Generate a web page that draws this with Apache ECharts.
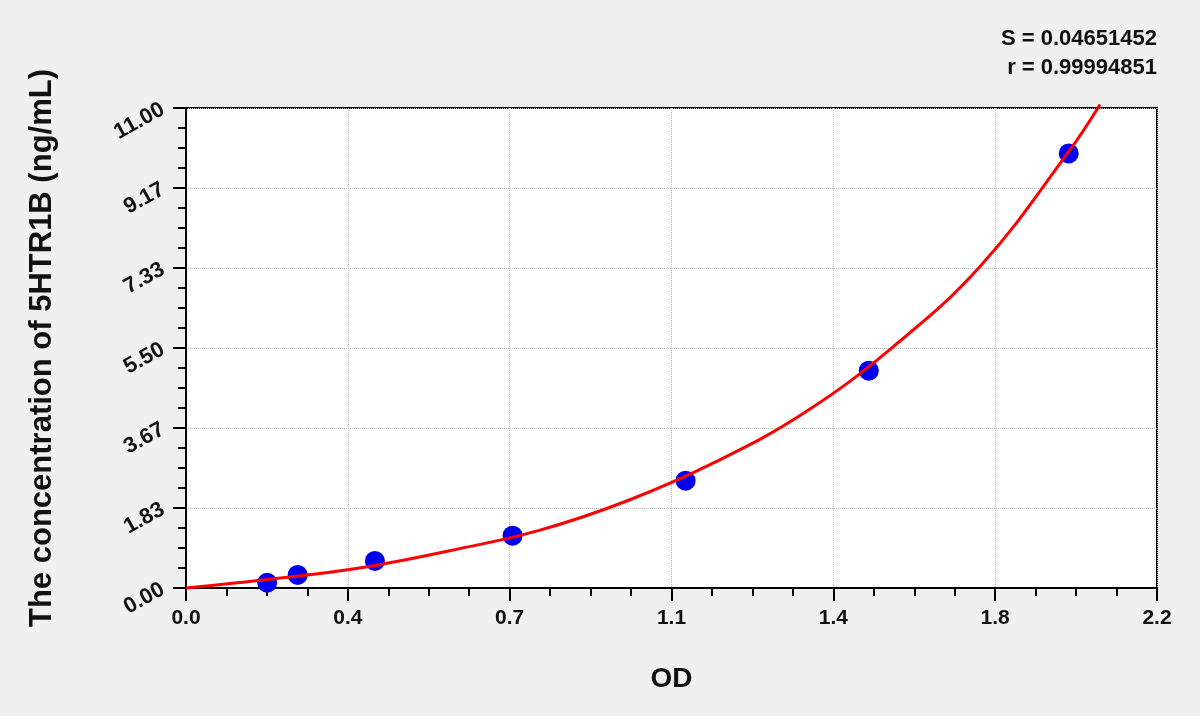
<!DOCTYPE html>
<html>
<head>
<meta charset="utf-8">
<script src="https://cdn.jsdelivr.net/npm/echarts@6/dist/echarts.min.js"></script>
<style>
  html, body { margin: 0; padding: 0; background: #f0f0f0; }
  #chart { width: 1200px; height: 716px; }
</style>
</head>
<body>
<div id="chart"></div>
<script>
// Measured standards (OD vs concentration)
const pointOD   = [0.184, 0.253, 0.428, 0.740, 1.132, 1.547, 2.000];
const pointConc = [0.12, 0.30, 0.62, 1.20, 2.46, 4.98, 9.96];

// Fitted curve
const curveOD   = [0, 0.2, 0.4, 0.6, 0.8, 1.0, 1.2, 1.4, 1.6, 1.8, 2.0, 2.071];
const curveConc = [0, 0.21, 0.47, 0.86, 1.32, 2.00, 2.89, 4.01, 5.51, 7.38, 10.0, 11.08];

// Tick labels
const xTickLabels = ['0.0', '0.4', '0.7', '1.1', '1.4', '1.8', '2.2'];
const yTickLabels = ['0.00', '1.83', '3.67', '5.50', '7.33', '9.17', '11.00'];

const xMax = 2.2, yMax = 11;
const xStep = xMax / 6, yStep = yMax / 6;

const statsText = ['S = 0.04651452', 'r = 0.99994851'];

const FONT = 'Liberation Sans, Arial, Helvetica, sans-serif';

const chart = echarts.init(document.getElementById('chart'));
chart.setOption({
  backgroundColor: '#f0f0f0',
  animation: false,
  graphic: statsText.map((t, i) => ({
    type: 'text',
    right: 43,
    top: 28 + i * 29,
    style: { text: t, fontFamily: FONT, fontSize: 22, fontWeight: 'bold', fill: '#111' }
  })),
  grid: {
    left: 186, top: 108, right: 43, bottom: 128,
    show: true, backgroundColor: '#ffffff', borderColor: '#000', borderWidth: 2
  },
  xAxis: {
    type: 'value', min: 0, max: xMax, interval: xStep,
    name: 'OD', nameLocation: 'middle', nameGap: 77,
    nameTextStyle: { fontFamily: FONT, fontSize: 28, fontWeight: 'bold', color: '#111' },
    axisLine: { lineStyle: { color: '#000', width: 2 } },
    axisTick: { length: 13, lineStyle: { color: '#000', width: 2 } },
    minorTick: { show: true, splitNumber: 4, length: 8, lineStyle: { color: '#000', width: 2 } },
    splitLine: { show: true, lineStyle: { type: 'dotted', color: '#b8b8b8', width: 1 } },
    axisLabel: {
      margin: 20, fontFamily: FONT, fontSize: 21, fontWeight: 'bold', color: '#111',
      formatter: function (v) { return xTickLabels[Math.round(v / xStep)] || ''; }
    }
  },
  yAxis: {
    type: 'value', min: 0, max: yMax, interval: yStep,
    name: 'The concentration of 5HTR1B (ng/mL)', nameLocation: 'middle', nameGap: 128,
    nameTextStyle: { fontFamily: FONT, fontSize: 31, fontWeight: 'bold', color: '#111' },
    axisLine: { lineStyle: { color: '#000', width: 2 } },
    axisTick: { length: 13, lineStyle: { color: '#000', width: 2 } },
    minorTick: { show: true, splitNumber: 4, length: 8, lineStyle: { color: '#000', width: 2 } },
    splitLine: { show: true, lineStyle: { type: 'dotted', color: '#b8b8b8', width: 1 } },
    axisLabel: {
      margin: 23, rotate: 29, fontFamily: FONT, fontSize: 22, fontWeight: 'bold', color: '#111',
      formatter: function (v) { return yTickLabels[Math.round(v / yStep)] || ''; }
    }
  },
  series: [
    {
      type: 'scatter',
      data: pointOD.map((x, i) => [x, pointConc[i]]),
      symbol: 'circle', symbolSize: 20,
      itemStyle: { color: '#0000f0', opacity: 1 },
      z: 2
    },
    {
      type: 'line',
      data: curveOD.map((x, i) => [x, curveConc[i]]),
      smooth: 0.4, showSymbol: false, clip: false,
      lineStyle: { color: '#ff0000', width: 3 },
      z: 3
    }
  ]
});
</script>
</body>
</html>
